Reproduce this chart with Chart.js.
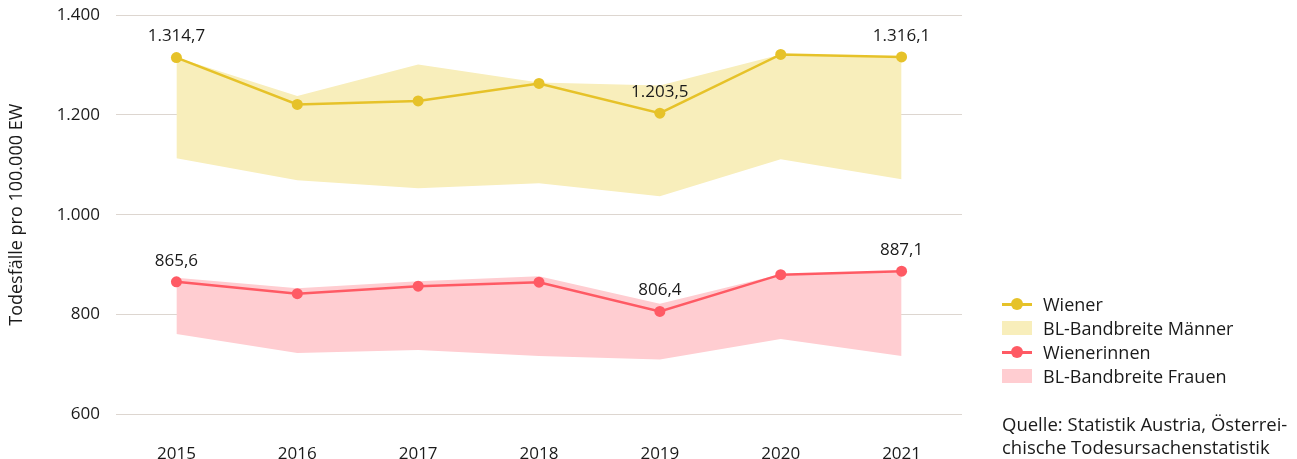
<!DOCTYPE html>
<html lang="de">
<head>
<meta charset="utf-8">
<script src="https://cdn.jsdelivr.net/npm/chart.js@4"></script>
<style>
    html, body { margin: 0; padding: 0; background: #fff; }
    body { width: 1297px; height: 459px; position: relative; overflow: hidden; font-family: "Open Sans", Lato, sans-serif; color: #1a1a1a; }
    #wrap { position: absolute; left: 0; top: 0; width: 1297px; height: 459px; }
    #legend { position: absolute; left: 1002px; top: 292px; font-size: 18px; }
    .item { height: 24px; display: flex; align-items: center; }
    .swatch { width: 30px; height: 14px; margin-right: 11px; position: relative; }
    .swatch.line::before { content: ''; position: absolute; left: 0; right: 0; top: 6px; height: 3px; }
    .swatch.line::after { content: ''; position: absolute; left: 9px; top: 1px; width: 12px; height: 12px; border-radius: 50%; }
    #source { position: absolute; left: 1002px; top: 412px; font-size: 18.5px; line-height: 23px; white-space: nowrap; }
</style>
</head>
<body>
<div id="wrap"><canvas id="chart" width="1297" height="459"></canvas></div>
<div id="legend"></div>
<div id="source">Quelle: Statistik Austria, Österrei-<br>chische Todesursachenstatistik</div>
<script>
// Data
const years = ['2015', '2016', '2017', '2018', '2019', '2020', '2021'];
const wiener = [1314.7, 1221, 1228, 1263, 1203.5, 1321, 1316.1];
const maennerMax = [1314.7, 1238, 1301, 1265, 1259, 1321, 1316.1];
const maennerMin = [1113, 1069, 1053, 1063, 1037, 1111, 1071];
const wienerinnen = [865.6, 842, 857, 865, 806.4, 880, 887.1];
const frauenMax = [874, 853, 867, 877, 822, 881, 887.1];
const frauenMin = [761, 723, 729, 717, 710, 751, 717];
const labelIndex = [0, 4, 6];
const yTicks = [600, 800, 1000, 1200, 1400];

const yellow = '#e6c229';
const yellowFill = '#f8eebb';
const red = '#ff5a64';
const redFill = '#ffcdd1';
const fontFamily = '"Open Sans", Lato, sans-serif';

const fmt = v => v.toLocaleString('de-DE', { minimumFractionDigits: 1, maximumFractionDigits: 1 });

// Value labels above selected points
const valueLabels = {
    id: 'valueLabels',
    afterDatasetsDraw(chart) {
        const ctx = chart.ctx;
        ctx.save();
        ctx.font = '17px ' + fontFamily;
        ctx.fillStyle = '#1a1a1a';
        ctx.textAlign = 'center';
        ctx.textBaseline = 'middle';
        chart.data.datasets.forEach((ds, i) => {
            if (!ds.showValues) return;
            const meta = chart.getDatasetMeta(i);
            labelIndex.forEach(idx => {
                const pt = meta.data[idx];
                ctx.fillText(fmt(ds.data[idx]), pt.x, pt.y - 21);
            });
        });
        ctx.restore();
    }
};

function lineSet(label, data, color) {
    return {
        label: label,
        data: data,
        borderColor: color,
        backgroundColor: color,
        borderWidth: 2.5,
        pointRadius: 5.5,
        pointHoverRadius: 5.5,
        pointBorderWidth: 0,
        fill: false,
        tension: 0,
        order: 0,
        showValues: true
    };
}

function bandSet(label, data, color, fill) {
    return {
        label: label,
        data: data,
        borderWidth: 0,
        borderColor: 'transparent',
        backgroundColor: color,
        pointRadius: 0,
        fill: fill,
        tension: 0,
        order: 1
    };
}

const datasets = [
    lineSet('Wiener', wiener, yellow),
    bandSet('BL-Bandbreite Männer', maennerMax, yellowFill, false),
    bandSet('', maennerMin, yellowFill, 1),
    lineSet('Wienerinnen', wienerinnen, red),
    bandSet('BL-Bandbreite Frauen', frauenMax, redFill, false),
    bandSet('', frauenMin, redFill, 4)
];

const chart = new Chart(document.getElementById('chart'), {
    type: 'line',
    data: { labels: years, datasets: datasets },
    plugins: [valueLabels],
    options: {
        responsive: false,
        animation: false,
        layout: { padding: { top: 15, right: 335, bottom: 0, left: 0 } },
        plugins: {
            legend: { display: false },
            tooltip: { enabled: false }
        },
        scales: {
            x: {
                offset: true,
                grid: { display: false },
                border: { display: false },
                ticks: { color: '#1a1a1a', font: { family: fontFamily, size: 17 }, padding: 21 },
                afterFit(scale) { scale.height = 44.5; }
            },
            y: {
                min: 600,
                max: 1400,
                afterBuildTicks(scale) { scale.ticks = yTicks.map(v => ({ value: v })); },
                grid: { color: '#ddd6d0', lineWidth: 1, drawTicks: false },
                border: { display: false },
                ticks: {
                    color: '#1a1a1a',
                    font: { family: fontFamily, size: 17 },
                    padding: 16,
                    callback: v => v.toLocaleString('de-DE')
                },
                title: {
                    display: true,
                    text: 'Todesfälle pro 100.000 EW',
                    color: '#1a1a1a',
                    font: { family: fontFamily, size: 18 },
                    padding: { top: 6, bottom: 0 }
                },
                afterFit(scale) {
                    scale.width = 116;
                    scale.paddingTop = 0;
                    scale.paddingBottom = 0;
                }
            }
        }
    }
});

// HTML legend built from datasets
const legend = document.getElementById('legend');
datasets.filter(ds => ds.label).forEach(ds => {
    const item = document.createElement('div');
    item.className = 'item';
    const sw = document.createElement('span');
    if (ds.showValues) {
        sw.className = 'swatch line';
        sw.style.setProperty('--c', ds.borderColor);
    } else {
        sw.className = 'swatch';
        sw.style.background = ds.backgroundColor;
    }
    item.appendChild(sw);
    const txt = document.createElement('span');
    txt.textContent = ds.label;
    item.appendChild(txt);
    legend.appendChild(item);
});
const style = document.createElement('style');
style.textContent = '.swatch.line::before, .swatch.line::after { background: var(--c); }';
document.head.appendChild(style);
</script>
</body>
</html>
